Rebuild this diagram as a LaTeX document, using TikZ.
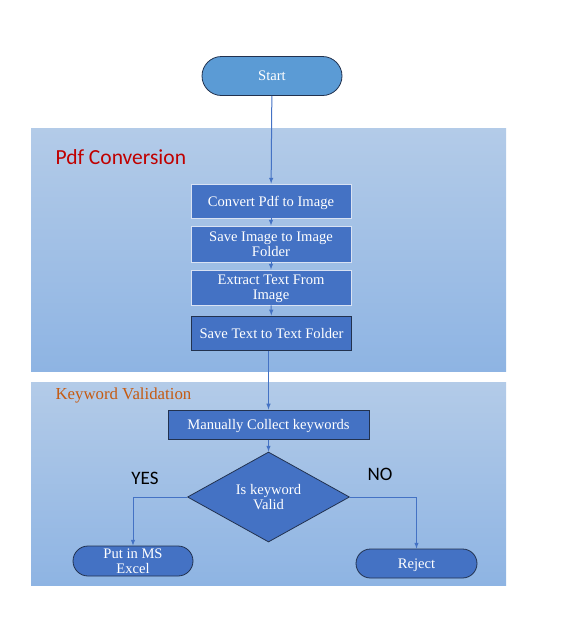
\documentclass[tikz,border=0pt]{standalone}
\usepackage{fontspec}
\setmainfont{Liberation Serif}
\newfontfamily\calibri{Carlito}
\usetikzlibrary{shapes.geometric,shapes.misc,positioning}

\definecolor{startblue}{HTML}{5B9BD5}
\definecolor{procblue}{HTML}{4472C4}
\definecolor{navyline}{HTML}{22324F}
\definecolor{lightline}{HTML}{D9E2F3}
\definecolor{paneltop}{HTML}{B3CBE8}
\definecolor{panelbot}{HTML}{8EB4E3}
\definecolor{pdfred}{HTML}{C00000}
\definecolor{kworange}{HTML}{C55A11}

\tikzset{
  boxfont/.style={font=\fontsize{14.6}{14.6}\selectfont, text=white, align=center, text depth=0pt},
  panel/.style={top color=paneltop, bottom color=panelbot, draw=none, inner sep=0pt},
  term/.style={rounded rectangle, boxfont, draw=navyline, line width=0.8pt, inner sep=0pt},
  proc/.style={rectangle, boxfont, fill=procblue, draw=lightline, line width=0.8pt,
    minimum width=160pt, inner sep=0pt},
  procdark/.style={proc, draw=navyline, line width=1pt},
  decide/.style={diamond, boxfont, fill=procblue, draw=navyline, line width=0.8pt,
    minimum width=162pt, minimum height=90pt, inner sep=0pt},
  flow/.style={-latex, draw=procblue, line width=1pt},
  answer/.style={font=\calibri\fontsize{19}{22}\selectfont, text=black}
}

\begin{document}
\begin{tikzpicture}[x=1pt,y=-1pt]
  \useasboundingbox (0,0) rectangle (568,630);

  % the two stage panels
  \node[panel, minimum width=475pt, minimum height=243pt] (pdfpanel) at (268.5,249.5) {};
  \node[panel, minimum width=475pt, minimum height=203pt] (kwpanel) at (268.5,483.5) {};
  \node[anchor=west, text=pdfred, font=\calibri\fontsize{21.5}{24}\selectfont] (pdftitle) at (52,157) {Pdf Conversion};
  \node[anchor=west, text=kworange, font=\fontsize{16.8}{18}\selectfont] (kwtitle) at (52,395.5) {Keyword Validation};

  \node[term, fill=startblue, minimum width=140pt, minimum height=39pt] (start) at (272,76) {Start};

  \node[proc, minimum height=34pt] (convert) at (271,201) {Convert Pdf to Image};
  \node[proc, minimum height=36pt] (saveimg) at (271,244) {Save Image to Image\\Folder};
  \node[proc, minimum height=35pt] (extract) at (271,287.5) {Extract Text From\\Image};
  \node[procdark, minimum height=34pt] (savetxt) at (271.5,333) {Save Text to Text Folder};

  \node[procdark, minimum width=201pt, minimum height=29pt] (collect) at (268.5,424.5) {Manually Collect keywords};
  \node[decide] (valid) at (268.5,497) {Is keyword\\Valid};

  \node[term, fill=procblue, minimum width=120pt, minimum height=30pt] (excel) at (133,561) {Put in MS\\Excel};
  \node[term, fill=procblue, minimum width=121pt, minimum height=29pt] (reject) at (416.5,563.5) {Reject};

  \node[answer] (yes) at (145,478) {YES};
  \node[answer] (no) at (380,474) {NO};

  \draw[flow] (start) -- (convert);
  \draw[flow] (convert) -- (saveimg);
  \draw[flow] (saveimg) -- (extract);
  \draw[flow] (extract) -- (savetxt);
  \draw[flow] (savetxt.south -| collect.north) -- (collect.north);
  \draw[flow] (collect) -- (valid);
  \draw[flow] (valid.west) -| (excel.north);
  \draw[flow] (valid.east) -| (reject.north);
\end{tikzpicture}
\end{document}
